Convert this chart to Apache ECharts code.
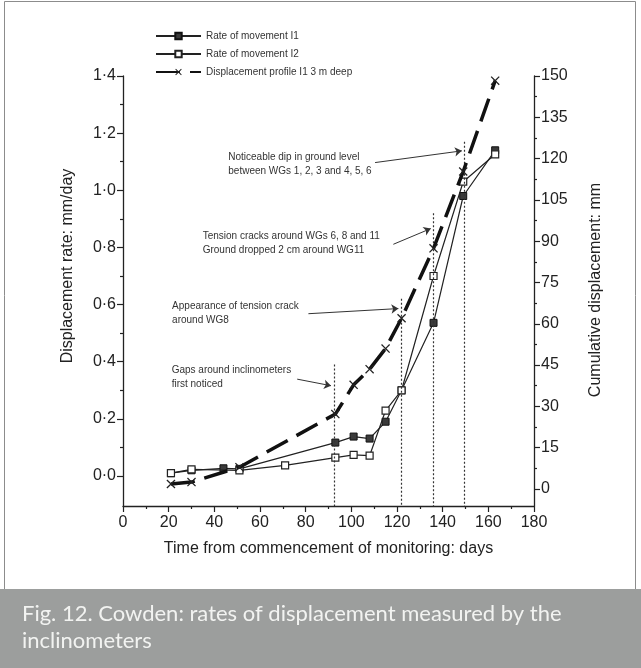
<!DOCTYPE html>
<html>
<head>
<meta charset="utf-8">
<script src="https://cdn.jsdelivr.net/npm/echarts@6/dist/echarts.min.js"></script>
<style>
html,body{margin:0;padding:0;background:#fff;}
#chart{width:641px;height:668px;}
</style>
</head>
<body>
<div id="chart"></div>
<script>
// ---- data ----
var daysI1 = [21, 30, 44, 51, 93, 101, 108, 115, 122, 136, 149, 163];
var rateI1 = [0.01, 0.02, 0.027, 0.025, 0.117, 0.138, 0.131, 0.19, 0.30, 0.536, 0.98, 1.14];
var daysI2 = [21, 30, 51, 71, 93, 101, 108, 115, 122, 136, 149, 163];
var rateI2 = [0.01, 0.023, 0.02, 0.037, 0.064, 0.074, 0.071, 0.229, 0.30, 0.70, 1.03, 1.126];
var daysDisp = [21, 30, 51, 93, 101, 108, 115, 122, 136, 149, 163];
var dispI1 = [1.8, 2.5, 7.9, 27.2, 37.8, 43.5, 51, 62, 87.4, 115.3, 148.3];

var seriesNames = ['Rate of movement I1', 'Rate of movement I2', 'Displacement profile I1 3 m deep'];

var xTicks = [0, 20, 40, 60, 80, 100, 120, 140, 160, 180];
var leftTicks = [0, 0.2, 0.4, 0.6, 0.8, 1.0, 1.2, 1.4];
var leftTickLabels = ['0·0', '0·2', '0·4', '0·6', '0·8', '1·0', '1·2', '1·4'];
var leftMinorTicks = [0.1, 0.3, 0.5, 0.7, 0.9, 1.1, 1.3];
var rightTicks = [0, 15, 30, 45, 60, 75, 90, 105, 120, 135, 150];
var rightMinorTicks = [7.5, 22.5, 37.5, 52.5, 67.5, 82.5, 97.5, 112.5, 127.5, 142.5];

// events (vertical dotted lines): day and top (displacement-rate axis)
var eventDays = [92.6, 122, 136, 149.4];
var eventTops = [0.39, 0.62, 0.92, 1.17];

// annotations: text, anchor (day, rate), arrow start/end (day, rate)
var annTexts = [
  'Gaps around inclinometers\nfirst noticed',
  'Appearance of tension crack\naround WG8',
  'Tension cracks around WGs 6, 8 and 11\nGround dropped 2 cm around WG11',
  'Noticeable dip in ground level\nbetween WGs 1, 2, 3 and 4, 5, 6'
];
var annAnchorDay = [21.3, 21.5, 34.9, 46.1];
var annAnchorRate = [0.347, 0.570, 0.813, 1.090];
var arrowFromDay = [76.3, 81.2, 118.4, 110.4];
var arrowFromRate = [0.339, 0.568, 0.811, 1.097];
var arrowToDay = [91.1, 120.6, 134.8, 148.4];
var arrowToRate = [0.316, 0.586, 0.866, 1.138];

var captionLines = ['Fig. 12. Cowden: rates of displacement measured by the', 'inclinometers'];

// ---- build ----
var LEFT_MIN = -0.105, LEFT_MAX = 1.4, RIGHT_MIN = -6.2, RIGHT_MAX = 150;
var FONT = 'Liberation Sans';

function pairs(xs, ys) { return xs.map(function (x, i) { return [x, ys[i]]; }); }

var xSymbol = 'path://M1,0 L5,4 L9,0 L10,1 L6,5 L10,9 L9,10 L5,6 L1,10 L0,9 L4,5 L0,1 Z';

var eventLines = eventDays.map(function (d, i) {
  return [{ coord: [d, eventTops[i]] }, { coord: [d, LEFT_MIN] }];
});
var arrowLines = arrowFromDay.map(function (d, i) {
  return [{ coord: [d, arrowFromRate[i]], symbol: 'none' },
          { coord: [arrowToDay[i], arrowToRate[i]], symbol: 'arrow' }];
});
var annPoints = annTexts.map(function (t, i) {
  return { coord: [annAnchorDay[i], annAnchorRate[i]], value: t };
});

var chart = echarts.init(document.getElementById('chart'), null, { renderer: 'canvas' });

var option = {
  backgroundColor: '#ffffff',
  animation: false,
  textStyle: { fontFamily: FONT },
  grid: { left: 123, right: 107, top: 76, bottom: 162, containLabel: false },
  legend: {
    orient: 'vertical',
    left: 150,
    top: 26,
    itemWidth: 45,
    itemHeight: 8,
    itemGap: 8,
    data: seriesNames,
    textStyle: { fontSize: 10, color: '#333', fontFamily: FONT }
  },
  xAxis: {
    type: 'value',
    min: 0, max: 180, interval: 20,
    axisLine: { show: true, onZero: false, lineStyle: { color: '#222', width: 1.3 } },
    axisTick: { show: true, inside: false, length: 6, lineStyle: { color: '#222', width: 1.2 } },
    minorTick: { show: true, splitNumber: 2, length: 3, lineStyle: { color: '#222', width: 1.2 } },
    axisLabel: { fontSize: 16, color: '#222', margin: 9, fontFamily: FONT },
    splitLine: { show: false },
    name: 'Time from commencement of monitoring: days',
    nameLocation: 'middle',
    nameGap: 35,
    nameTextStyle: { fontSize: 16, color: '#222', fontFamily: FONT }
  },
  yAxis: [
    {
      type: 'value', position: 'left',
      min: LEFT_MIN, max: LEFT_MAX,
      axisLine: { show: true, onZero: false, lineStyle: { color: '#222', width: 1.3 } },
      axisTick: { show: true, inside: false, length: 6, customValues: leftTicks, lineStyle: { color: '#222', width: 1.2 } },
      axisLabel: {
        fontSize: 16, color: '#222', margin: 7, fontFamily: FONT,
        customValues: leftTicks,
        formatter: function (v) {
          var idx = leftTicks.findIndex(function (t) { return Math.abs(t - v) < 1e-6; });
          return idx >= 0 ? leftTickLabels[idx] : '';
        }
      },
      splitLine: { show: false }
    },
    {
      type: 'value', position: 'right',
      min: RIGHT_MIN, max: RIGHT_MAX,
      axisLine: { show: true, onZero: false, lineStyle: { color: '#222', width: 1.3 } },
      axisTick: { show: true, inside: false, length: 6, customValues: rightTicks, lineStyle: { color: '#222', width: 1.2 } },
      axisLabel: { fontSize: 16, color: '#222', margin: 7, fontFamily: FONT, customValues: rightTicks },
      splitLine: { show: false }
    },
    {
      type: 'value', position: 'left',
      min: LEFT_MIN, max: LEFT_MAX,
      axisLine: { show: false },
      axisTick: { show: true, inside: false, length: 3, customValues: leftMinorTicks, lineStyle: { color: '#222', width: 1.2 } },
      axisLabel: { show: false },
      splitLine: { show: false }
    },
    {
      type: 'value', position: 'right',
      min: RIGHT_MIN, max: RIGHT_MAX,
      axisLine: { show: false },
      axisTick: { show: true, inside: false, length: 3, customValues: rightMinorTicks, lineStyle: { color: '#222', width: 1.2 } },
      axisLabel: { show: false },
      splitLine: { show: false }
    }
  ],
  series: [
    {
      name: seriesNames[0], type: 'line', yAxisIndex: 0,
      data: pairs(daysI1, rateI1),
      symbol: 'rect', symbolSize: 7,
      itemStyle: { color: '#3a3a3a', borderColor: '#111', borderWidth: 1 },
      lineStyle: { color: '#222', width: 1.2 },
      z: 3,
      markLine: {
        silent: true, symbol: ['none', 'none'],
        lineStyle: { color: '#333', width: 1.2, type: [2, 2] },
        label: { show: false },
        data: eventLines
      }
    },
    {
      name: seriesNames[1], type: 'line', yAxisIndex: 0,
      data: pairs(daysI2, rateI2),
      symbol: 'rect', symbolSize: 7,
      itemStyle: { color: '#ffffff', borderColor: '#222', borderWidth: 1.2 },
      lineStyle: { color: '#222', width: 1.2 },
      z: 4,
      markLine: {
        silent: true, symbolSize: 7,
        lineStyle: { color: '#333', width: 1, type: 'solid' },
        label: { show: false },
        data: arrowLines
      },
      markPoint: {
        silent: true, symbol: 'circle', symbolSize: 0,
        label: {
          show: true, position: 'right', distance: 0,
          formatter: function (p) { return p.value; },
          fontSize: 10, lineHeight: 14, color: '#333', fontFamily: FONT, align: 'left'
        },
        data: annPoints
      }
    },
    {
      name: seriesNames[2], type: 'line', yAxisIndex: 1,
      data: pairs(daysDisp, dispI1),
      symbol: xSymbol, symbolSize: 9,
      itemStyle: { color: '#222', borderWidth: 0 },
      lineStyle: { color: '#111', width: 3.5, type: [24, 10] },
      z: 5
    }
  ],
  graphic: [
    { type: 'rect', silent: true, z: -10, shape: { x: 4.5, y: 1.5, width: 631, height: 588 },
      style: { fill: 'none', stroke: '#8c8c8c', lineWidth: 1 } },
    { type: 'rect', silent: true, z: -5, shape: { x: 0, y: 589, width: 641, height: 79 },
      style: { fill: '#9c9e9d' } },
    { type: 'text', silent: true, x: 22, y: 614, style: { text: captionLines[0], fill: '#f2f3f1', font: '22px Lato', textVerticalAlign: 'middle' } },
    { type: 'text', silent: true, x: 22, y: 641, style: { text: captionLines[1], fill: '#f2f3f1', font: '22px Lato', textVerticalAlign: 'middle' } },
    { type: 'text', silent: true, x: 68, y: 266, rotation: Math.PI / 2,
      style: { text: 'Displacement rate: mm/day', fill: '#222', font: '16px "Liberation Sans"', textAlign: 'center', textVerticalAlign: 'middle' } },
    { type: 'text', silent: true, x: 596, y: 290, rotation: Math.PI / 2,
      style: { text: 'Cumulative displacement: mm', fill: '#222', font: '16px "Liberation Sans"', textAlign: 'center', textVerticalAlign: 'middle' } }
  ]
};
chart.setOption(option);
</script>
</body>
</html>
